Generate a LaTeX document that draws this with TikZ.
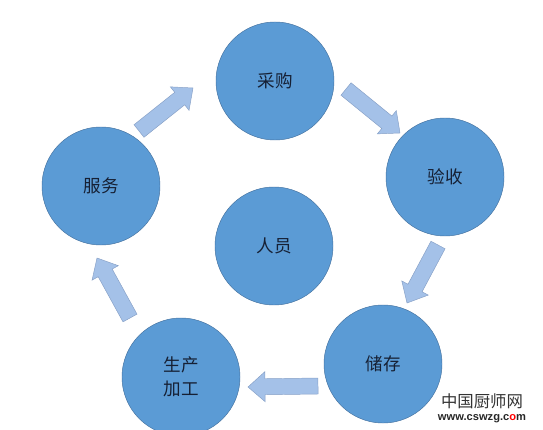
\documentclass[tikz,border=0pt]{standalone}
\usepackage{fontspec}
\setmainfont{Noto Sans CJK SC}
\newfontfamily\urlfont{Liberation Sans}
\usetikzlibrary{calc}

\definecolor{stagefill}{RGB}{91,155,213}
\definecolor{stageline}{RGB}{70,115,160}
\definecolor{flowfill}{RGB}{164,193,232}
\definecolor{flowline}{RGB}{135,160,198}
\definecolor{textdark}{RGB}{22,32,52}

\begin{document}
\begin{tikzpicture}[
        x=0.03cm, y=-0.03cm,
        stage/.style={circle, draw=stageline, thin, fill=stagefill, minimum size=3.54cm,
            inner sep=0pt, align=center, text=textdark,
            font=\fontsize{15}{21}\selectfont},
        flow/.style={draw=flowline, thin, fill=flowfill, line join=miter},
    ]
        \useasboundingbox (0,0) rectangle (543,430);

        % Stages
        \node[stage] (caigou) at (275,81) {采购};
        \node[stage] (yanshou) at (445,177) {验收};
        \node[stage] (chucun) at (383,364) {储存};
        \node[stage] (jiagong) at (181,377) {生产\\加工};
        \node[stage] (fuwu) at (101,186) {服务};
        \node[stage] (renyuan) at (274,246) {人员};

        % Arrow ends (tail s, tip e)
        \coordinate (s1) at (139,131); \coordinate (e1) at (193,88);
        \coordinate (s2) at (346,89);  \coordinate (e2) at (400,133);
        \coordinate (s3) at (438,245); \coordinate (e3) at (407,303);
        \coordinate (s4) at (318,386); \coordinate (e4) at (248,387);
        \coordinate (s5) at (130,318); \coordinate (e5) at (97,258);

        % Block arrows
        \foreach \i in {1,...,5} {
            \coordinate (b) at ($(e\i)!0.51cm!(s\i)$);
            \draw[flow] ($(s\i)!0.24cm!90:(e\i)$) -- ($(b)!0.24cm!90:(e\i)$)
                -- ($(b)!0.45cm!90:(e\i)$) -- (e\i) -- ($(b)!0.45cm!-90:(e\i)$)
                -- ($(b)!0.24cm!-90:(e\i)$) -- ($(s\i)!0.24cm!-90:(e\i)$) -- cycle;
        }

        % Watermark
        \node[text=black!80, font=\fontsize{14}{16}\selectfont, inner sep=0pt] (mark) at (482,401) {中国厨师网};
        \node[text=black!85, font=\urlfont\bfseries\fontsize{9.5}{11}\selectfont, inner sep=0pt]
            (url) at (482,419) {www.cswzg.c\textcolor{red}{o}m};
    \end{tikzpicture}
\end{document}
